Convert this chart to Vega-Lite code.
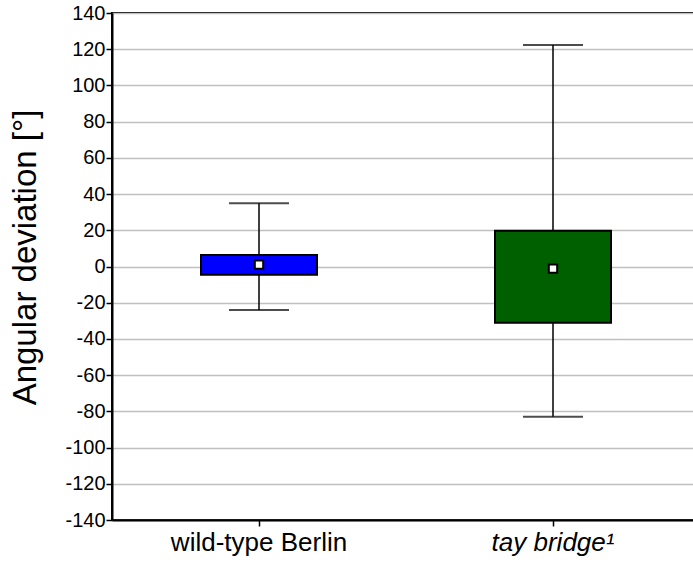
{
  "$schema": "https://vega.github.io/schema/vega-lite/v6.json",
  "autosize": {"type": "none"},
  "padding": {"left": 112, "top": 13, "right": 0, "bottom": 44},
  "width": 588,
  "height": 507,
  "background": "white",
  "data": {
    "values": [
      {"group": "wild-type Berlin", "low": -24, "q1": -4.5, "mean": 1, "q3": 6.3, "high": 35},
      {"group": "tay bridge¹", "low": -83, "q1": -31, "mean": -1.2, "q3": 19.8, "high": 122.3}
    ]
  },
  "encoding": {
    "x": {
      "field": "group",
      "type": "nominal",
      "sort": null,
      "scale": {"paddingInner": 0, "paddingOuter": 0},
      "axis": {
        "title": null,
        "labelAngle": 0,
        "labelFontSize": 26,
        "labelPadding": 3,
        "labelFontStyle": {"condition": {"test": "datum.value === 'tay bridge¹'", "value": "italic"}, "value": "normal"},
        "tickSize": 6,
        "grid": false
      }
    }
  },
  "layer": [
    {
      "mark": {"type": "rule", "color": "black", "strokeWidth": 1.5},
      "encoding": {
        "y": {
          "field": "low",
          "type": "quantitative",
          "scale": {"domain": [-140, 140], "nice": false, "zero": false},
          "axis": {
            "title": "Angular deviation [°]",
            "values": [-140, -120, -100, -80, -60, -40, -20, 0, 20, 40, 60, 80, 100, 120, 140]
          }
        },
        "y2": {"field": "high"}
      }
    },
    {
      "mark": {"type": "bar", "size": 116, "stroke": "black", "strokeWidth": 2},
      "encoding": {
        "y": {
          "field": "q1",
          "type": "quantitative",
          "axis": {
            "title": "Angular deviation [°]",
            "values": [-140, -120, -100, -80, -60, -40, -20, 0, 20, 40, 60, 80, 100, 120, 140]
          }
        },
        "y2": {"field": "q3"},
        "color": {
          "field": "group",
          "type": "nominal",
          "scale": {"domain": ["wild-type Berlin", "tay bridge¹"], "range": ["#0000ff", "#006000"]},
          "legend": null
        }
      }
    },
    {
      "mark": {"type": "tick", "orient": "horizontal", "size": 60, "thickness": 2, "color": "black"},
      "encoding": {
        "y": {
          "field": "low",
          "type": "quantitative",
          "axis": {
            "title": "Angular deviation [°]",
            "values": [-140, -120, -100, -80, -60, -40, -20, 0, 20, 40, 60, 80, 100, 120, 140]
          }
        }
      }
    },
    {
      "mark": {"type": "tick", "orient": "horizontal", "size": 60, "thickness": 2, "color": "black"},
      "encoding": {
        "y": {
          "field": "high",
          "type": "quantitative",
          "axis": {
            "title": "Angular deviation [°]",
            "values": [-140, -120, -100, -80, -60, -40, -20, 0, 20, 40, 60, 80, 100, 120, 140]
          }
        }
      }
    },
    {
      "mark": {"type": "point", "shape": "square", "size": 70, "filled": true, "fill": "white", "stroke": "black", "strokeWidth": 2, "opacity": 1},
      "encoding": {
        "y": {
          "field": "mean",
          "type": "quantitative",
          "axis": {
            "title": "Angular deviation [°]",
            "values": [-140, -120, -100, -80, -60, -40, -20, 0, 20, 40, 60, 80, 100, 120, 140]
          }
        }
      }
    }
  ],
  "config": {
    "view": {"stroke": "black", "strokeWidth": 2},
    "axis": {
      "labelFont": "Liberation Sans",
      "labelColor": "black",
      "labelFontWeight": "normal",
      "labelOverlap": false,
      "domainColor": "black",
      "domainWidth": 2,
      "tickColor": "black",
      "tickWidth": 1.5,
      "titleFont": "Liberation Sans",
      "titleColor": "black",
      "titleFontWeight": "normal"
    },
    "axisY": {
      "labelFontSize": 20,
      "labelPadding": 1,
      "labelExpr": "toString(datum.value)",
      "tickSize": 6,
      "titleFontSize": 33,
      "titleX": -70,
      "titleY": 244,
      "grid": true,
      "gridColor": "#c0c0c0",
      "gridWidth": 1.5
    }
  }
}
